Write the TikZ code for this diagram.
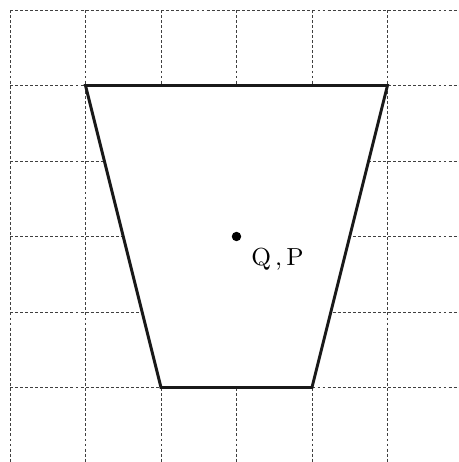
\documentclass[tikz,border=0pt]{standalone}
\begin{document}
\begin{tikzpicture}[x=1cm,y=1cm,
  gridline/.style={black!75, line width=0.35pt, dash pattern=on 1.1pt off 0.8pt},
  outline/.style={black!90, line width=1.1pt, line join=miter, fill=white},
  pointdot/.style={circle, fill=black, inner sep=0pt, minimum size=0.125cm},
  lbl/.style={anchor=base west, inner sep=0pt, font=\fontsize{9.3}{11}\selectfont}]
\useasboundingbox (-0.1325,-5.987) rectangle (5.947,0.1325);
% grid
\foreach \i in {0,...,5} {
  \draw[gridline] (\i,0) -- (\i,-5.987);
  \draw[gridline] (0,-\i) -- (5.947,-\i);
}
% trapezoid
\coordinate (A) at (1,-1);
\coordinate (B) at (5,-1);
\coordinate (C) at (4,-5);
\coordinate (D) at (2,-5);
\draw[outline] (A) -- (B) -- (C) -- (D) -- cycle;
% point
\node[pointdot] (pt) at (3,-3) {};
\node[lbl] (qp) at (3.19,-3.38) {Q\,,\,P};
\end{tikzpicture}
\end{document}
